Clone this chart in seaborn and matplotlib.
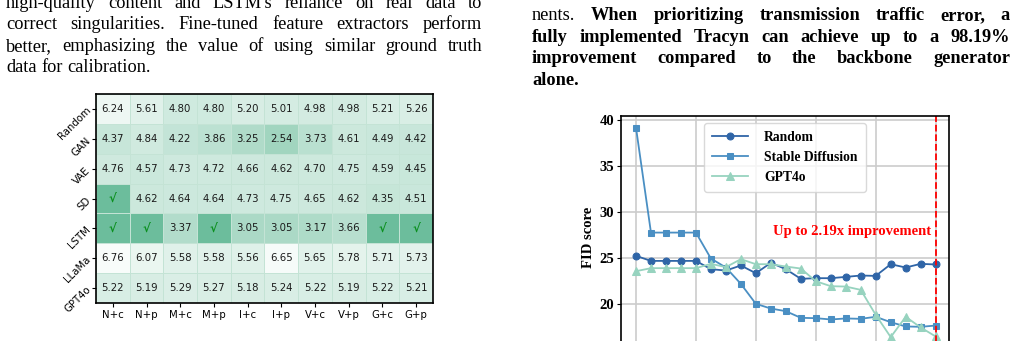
import numpy as np
import pandas as pd
import seaborn as sns
import matplotlib.pyplot as plt
from matplotlib.colors import LinearSegmentedColormap

# heatmap data (0.0 = cell marked with a check)
generators = ["Random", "GAN", "VAE", "SD", "LSTM", "LLaMa", "GPT4o"]
extractors = ["N+c", "N+p", "M+c", "M+p", "I+c", "I+p", "V+c", "V+p", "G+c", "G+p"]
random_row = [6.24, 5.61, 4.80, 4.80, 5.20, 5.01, 4.98, 4.98, 5.21, 5.26]
gan_row = [4.37, 4.84, 4.22, 3.86, 3.25, 2.54, 3.73, 4.61, 4.49, 4.42]
vae_row = [4.76, 4.57, 4.73, 4.72, 4.66, 4.62, 4.70, 4.75, 4.59, 4.45]
sd_row = [0.0, 4.62, 4.64, 4.64, 4.73, 4.75, 4.65, 4.62, 4.35, 4.51]
lstm_row = [0.0, 0.0, 3.37, 0.0, 3.05, 3.05, 3.17, 3.66, 0.0, 0.0]
llama_row = [6.76, 6.07, 5.58, 5.58, 5.56, 6.65, 5.65, 5.78, 5.71, 5.73]
gpt4o_row = [5.22, 5.19, 5.29, 5.27, 5.18, 5.24, 5.22, 5.19, 5.22, 5.21]

# line chart data
steps = list(range(21))
fid_random = [25.22, 24.67, 24.67, 24.67, 24.67, 23.77, 23.62, 24.17, 23.33, 24.46, 23.77,
              22.72, 22.79, 22.79, 22.93, 23.08, 23.04, 24.31, 23.95, 24.35, 24.28]
fid_sd = [39.17, 27.75, 27.75, 27.75, 27.75, 24.93, 23.95, 22.17, 20.0, 19.49, 19.2,
          18.48, 18.44, 18.3, 18.41, 18.37, 18.59, 18.0, 17.54, 17.5, 17.64]
fid_gpt4o = [23.55, 23.88, 23.88, 23.88, 23.88, 24.35, 23.99, 24.86, 24.31, 24.31, 24.06,
             23.84, 22.46, 21.92, 21.88, 21.52, 18.8, 16.38, 18.59, 17.43, 16.45]

left_lines = [
    "high-quality content and LSTM's reliance on real data to",
    "correct singularities. Fine-tuned feature extractors perform",
    "better, emphasizing the value of using similar ground truth",
    "data for calibration.",
]
right_lines = [
    [("nents.", "normal"), ("When prioritizing transmission traffic error, a", "bold")],
    [("fully implemented Tracyn can achieve up to a 98.19%", "bold")],
    [("improvement compared to the backbone generator", "bold")],
    [("alone.", "bold")],
]

W, H = 1020, 341
fig = plt.figure(figsize=(W / 100, H / 100), dpi=100)
renderer = fig.canvas.get_renderer()
serif = ["Liberation Serif", "DejaVu Serif"]


def put_line(parts, x0, x1, ybase, justify=True, size=13.2):
    words = []
    for chunk, weight in parts:
        for w in chunk.split():
            words.append((w, weight))
    texts = [fig.text(x0 / W, 1 - ybase / H, w, family=serif, weight=wt, size=size,
                      va="baseline", ha="left") for w, wt in words]
    widths = [t.get_window_extent(renderer).width for t in texts]
    space = size * 100 / 72 * 0.25
    if justify and len(words) > 1:
        gap = (x1 - x0 - sum(widths)) / (len(words) - 1)
    else:
        gap = space
    x = x0
    for t, w in zip(texts, widths):
        t.set_x(x / W)
        x += w + gap


left_base = [7.5, 29.3, 50.8, 72.3]
for i, line in enumerate(left_lines):
    put_line([(line, "normal")], 6, 482, left_base[i], justify=i < len(left_lines) - 1)
right_base = [20.0, 41.7, 63.3, 84.8]
for i, parts in enumerate(right_lines):
    put_line(parts, 532, 1010, right_base[i], justify=i < len(right_lines) - 1)

# ---- heatmap ----
grid = pd.DataFrame([random_row, gan_row, vae_row, sd_row, lstm_row, llama_row, gpt4o_row],
                    index=generators, columns=extractors)
labels = grid.map(lambda v: "\u221a" if v == 0 else f"{v:.2f}")
cmap = LinearSegmentedColormap.from_list("grn", ["#6cbd9c", "#f8fcfa"])

ax1 = fig.add_axes([96 / W, 1 - 303 / H, 337 / W, 209 / H])
sns.heatmap(grid, annot=labels, fmt="", cmap=cmap, vmin=0, vmax=6.76, cbar=False,
            linewidths=0.5, linecolor="#c4e3d5", annot_kws={"size": 7.3}, ax=ax1)
for t in ax1.texts:
    if t.get_text() == "\u221a":
        t.set_color("#0c9020")
        t.set_fontsize(8.5)
        t.set_fontweight("bold")
    else:
        t.set_color("#1a1a1a")
for s in ax1.spines.values():
    s.set_visible(True)
    s.set_linewidth(1.2)
    s.set_color("black")
ax1.set_yticklabels(generators, rotation=45, ha="right", va="center",
                    rotation_mode="anchor", fontsize=7.3)
ax1.set_xticklabels(extractors, rotation=0, fontsize=7.3)
ax1.tick_params(length=3, width=0.8, pad=2)
ax1.set_xlabel("")
ax1.set_ylabel("")

# ---- line chart (bottom part falls outside the page crop) ----
ax2 = fig.add_axes([621 / W, 1 - 359 / H, 328 / W, 243 / H])
ax2.grid(True, color="#cccccc", linewidth=1.2, zorder=0)
ax2.set_axisbelow(True)
sns.lineplot(x=steps, y=fid_random, marker="o", color="#2f65a7", markeredgecolor="#2f65a7",
             markersize=5, linewidth=1.3, label="Random", ax=ax2)
sns.lineplot(x=steps, y=fid_sd, marker="s", color="#4a8fc3", markeredgecolor="#4a8fc3",
             markersize=5, linewidth=1.3, label="Stable Diffusion", ax=ax2)
sns.lineplot(x=steps, y=fid_gpt4o, marker="^", color="#97d3bf", markeredgecolor="#97d3bf",
             markersize=5.5, linewidth=1.3, label="GPT4o", ax=ax2)
ax2.axvline(steps[-1], color="red", linestyle="--", linewidth=1.3)
ax2.text(steps[-1] - 0.3, 27.86, "Up to 2.19x improvement", color="red", ha="right",
         va="center", family=serif, weight="bold", size=10.5)
ax2.set_xlim(-1, 20.89)
ax2.set_ylim(14, 40.43)
ax2.set_xticks(range(0, 21, 4))
ax2.set_xticklabels([])
ax2.set_yticks([20, 25, 30, 35, 40])
for lab in ax2.get_yticklabels():
    lab.set_family(serif)
    lab.set_weight("bold")
    lab.set_size(10.5)
ax2.set_ylabel("FID score", family=serif, weight="bold", size=10.5, labelpad=3)
for s in ax2.spines.values():
    s.set_linewidth(1.2)
    s.set_color("black")
ax2.tick_params(length=3, width=0.8, pad=2)
ax2.legend(loc="upper center", prop={"family": serif, "weight": "bold", "size": 9.8},
           handlelength=2.6, labelspacing=0.5, borderpad=0.6, handletextpad=1.2,
           framealpha=0.8, edgecolor="#d0d0d0")

fig.savefig("out.png", dpi=100)
